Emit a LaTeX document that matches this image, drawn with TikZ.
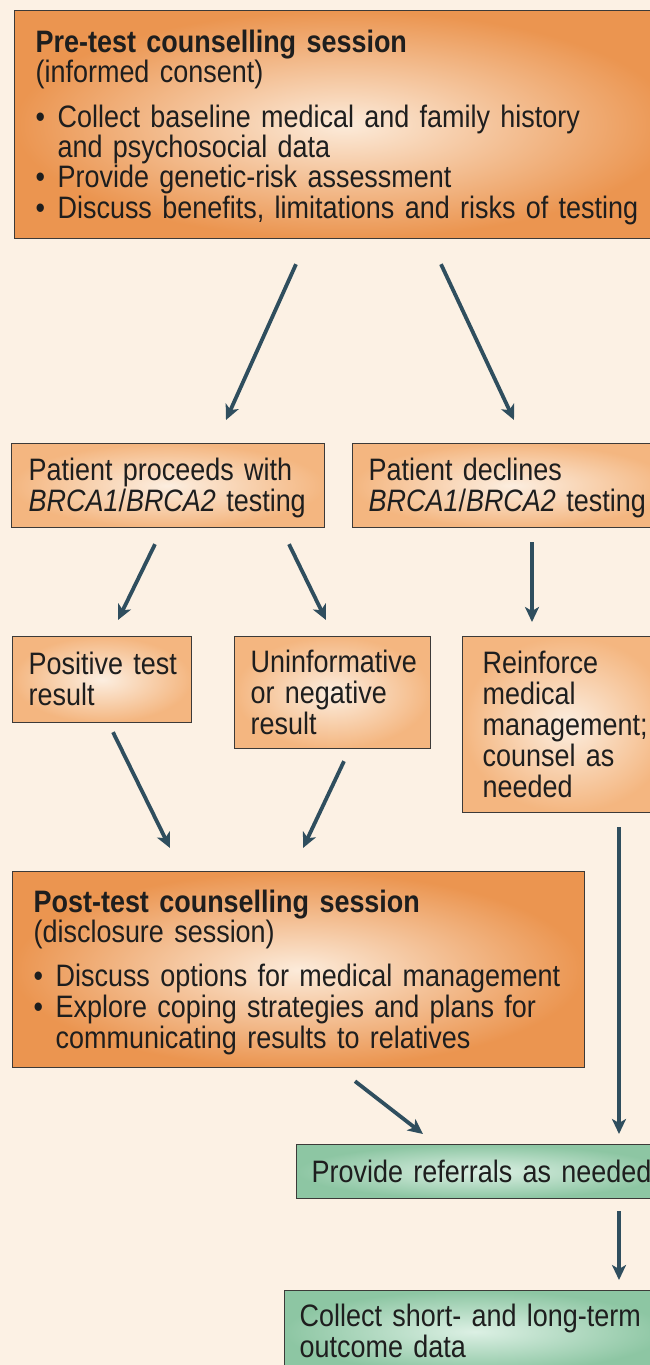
\documentclass[tikz,border=0pt]{standalone}
\usepackage{fontspec}
\setmainfont{Liberation Sans}[FakeStretch=0.87]
\usetikzlibrary{arrows.meta,calc}
\definecolor{bg}{HTML}{FCF1E4}
\definecolor{orangeout}{HTML}{EB9550}
\definecolor{orangein}{HTML}{FCEBDA}
\definecolor{lightout}{HTML}{F4B680}
\definecolor{lightin}{HTML}{FCEEE0}
\definecolor{greenout}{HTML}{8DC6A3}
\definecolor{greenin}{HTML}{DCF0E4}
\definecolor{boxline}{HTML}{3C3A38}
\definecolor{arrowcol}{HTML}{2F4E5E}
\definecolor{txt}{HTML}{1E1E1E}
\newcommand{\bul}{\makebox[22pt][l]{•}}
\newcommand{\ind}{\hspace*{22pt}}
\newcommand{\lines}[2][31pt]{\raisebox{-4pt}[\height][\depth]{\vbox{\baselineskip=#1\lineskiplimit=-100pt\lineskip=0pt #2}}}
\newcommand{\tline}[1]{\hbox{\strut #1}}
\tikzset{
  box/.style={draw=boxline, line width=1.2pt, anchor=north west, align=left,
    text=txt, font=\fontsize{31}{31}\selectfont, inner ysep=0pt},
  bigbox/.style={box, shading=radial, inner color=orangein, outer color=orangeout},
  smallbox/.style={box, shading=radial, inner color=lightin, outer color=lightout},
  greenbox/.style={box, shading=radial, inner color=greenin, outer color=greenout},
  arr/.style={draw=arrowcol, line width=3.8pt,
    -{Stealth[length=15pt,width=14pt,inset=4pt]}}
}
\begin{document}
\begin{tikzpicture}[x=1pt,y=1pt]
\path[use as bounding box] (0,0) rectangle (650,-1365);
\clip (0,0) rectangle (650,-1365);
\fill[bg] (0,0) rectangle (650,-1365);

\node[bigbox, minimum width=660pt, minimum height=228pt, inner xsep=21pt, text width=618pt]
  (pre) at (14,-10)
  {\lines[30.3pt]{\tline{\textbf{Pre-test counselling session}}
   \tline{(informed consent)}\vskip 14.5pt
   \tline{\bul Collect baseline medical and family history}
   \tline{\ind and psychosocial data}
   \tline{\bul Provide genetic-risk assessment}
   \tline{\bul Discuss benefits, limitations and risks of testing}}};

\node[smallbox, minimum width=313pt, minimum height=84pt, inner xsep=17pt, text width=279pt]
  (proc) at (11,-443)
  {\lines{\tline{Patient proceeds with}\tline{\textit{BRCA1}/\textit{BRCA2} testing}}};

\node[smallbox, minimum width=320pt, minimum height=84pt, inner xsep=16pt, text width=288pt]
  (decl) at (352,-443)
  {\lines{\tline{Patient declines}\tline{\textit{BRCA1}/\textit{BRCA2} testing}}};

\node[smallbox, minimum width=179pt, minimum height=86pt, inner xsep=16pt, text width=147pt]
  (pos) at (12,-636)
  {\lines{\tline{Positive test}\tline{result}}};

\node[smallbox, minimum width=196pt, minimum height=112pt, inner xsep=16pt, text width=164pt]
  (unin) at (234,-636)
  {\lines{\tline{Uninformative}\tline{or negative}\tline{result}}};

\node[smallbox, minimum width=210pt, minimum height=176pt, inner xsep=20pt, text width=170pt]
  (reinf) at (462,-636)
  {\lines{\tline{Reinforce}\tline{medical}\tline{management;}\tline{counsel as}\tline{needed}}};

\node[bigbox, minimum width=572pt, minimum height=196pt, inner xsep=21pt, text width=530pt]
  (post) at (12,-871)
  {\lines[30.6pt]{\tline{\textbf{Post-test counselling session}}
   \tline{(disclosure session)}\vskip 13.5pt
   \tline{\bul Discuss options for medical management}
   \tline{\bul Explore coping strategies and plans for}
   \tline{\ind communicating results to relatives}}};

\node[greenbox, minimum width=370pt, minimum height=54pt, inner xsep=15pt, text width=340pt]
  (refer) at (296,-1144)
  {\lines{\tline{Provide referrals as needed}}};

\node[greenbox, minimum width=380pt, minimum height=82pt, inner xsep=15pt, text width=350pt]
  (collect) at (284,-1290)
  {\lines{\tline{Collect short- and long-term}\tline{outcome data}}};

\draw[arr] ($(pre.south west)+(282,-25)$) -- ($(proc.north west)+(215,23)$);
\draw[arr] ($(pre.south west)+(427,-25)$) -- ($(decl.north west)+(162,23)$);
\draw[arr] ($(proc.south west)+(144,-16)$) -- ($(pos.north west)+(106,16)$);
\draw[arr] ($(proc.south west)+(278,-16)$) -- ($(unin.north west)+(92,16)$);
\draw[arr] ($(decl.south west)+(180,-14)$) -- ($(reinf.north west)+(70,14)$);
\draw[arr] ($(pos.south west)+(101,-9)$) -- ($(post.north west)+(158,23)$);
\draw[arr] ($(unin.south west)+(110,-12)$) -- ($(post.north west)+(291,23)$);
\draw[arr] ($(reinf.south west)+(157,-14)$) -- ($(refer.north west)+(323,10)$);
\draw[arr] ($(post.south west)+(343,-13)$) -- ($(refer.north west)+(127,10)$);
\draw[arr] ($(refer.south west)+(323,-12)$) -- ($(collect.north west)+(335,10)$);
\end{tikzpicture}
\end{document}
